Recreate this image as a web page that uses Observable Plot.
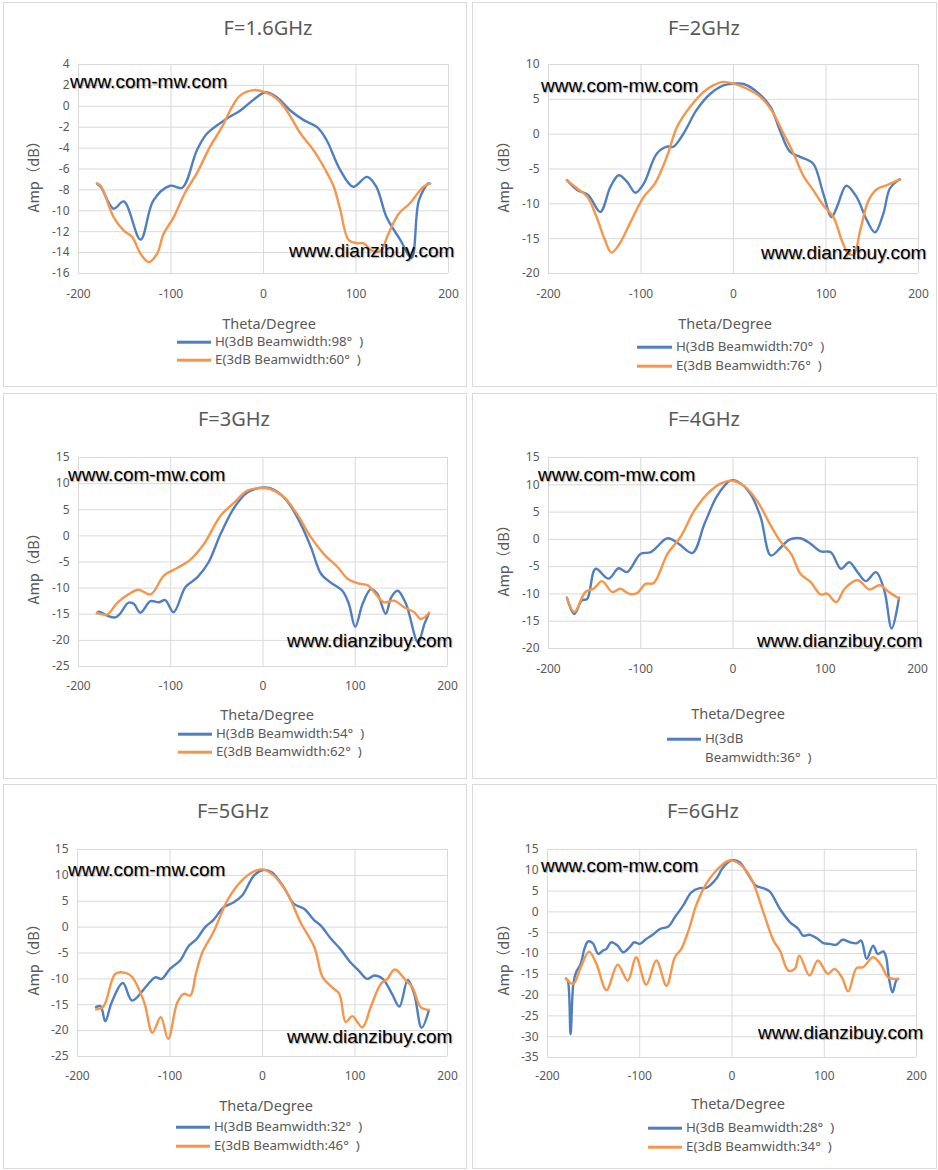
<!DOCTYPE html>
<html><head><meta charset="utf-8">
<script src="https://cdn.jsdelivr.net/npm/d3@7"></script>
<script src="https://cdn.jsdelivr.net/npm/@observablehq/plot@0.6"></script>
<style>
body{margin:0;background:#fff;}
#root{position:relative;width:938px;height:1170px;overflow:hidden;font-family:"Noto Sans","Noto Sans CJK SC",sans-serif;color:#595959;}
.panel{position:absolute;border:1px solid #d9d9d9;box-sizing:border-box;}
.abs{position:absolute;white-space:pre;line-height:1;}
.title{font-size:20px;transform:translate(-50%,-50%);}
.xt{font-size:14.5px;transform:translate(-50%,-50%);}
.yt{font-size:14.5px;font-family:"Noto Sans CJK SC","Noto Sans",sans-serif;transform:translate(-50%,-50%) rotate(-90deg);}
.lg{font-size:13.3px;transform:translate(0,-50%);}
.lgl{position:absolute;height:2.6px;transform:translate(0,-50%);}
.wm{font-family:"Liberation Sans",Arial,sans-serif;font-size:19px;color:#000;text-shadow:1px 1px 1px rgba(0,0,0,0.35);}
svg{position:absolute;}
</style></head>
<body><div id="root"></div>
<script>
const BLUE = "#4f7fc1", ORANGE = "#f7964a";
const xTicks = [-200, -100, 0, 100, 200];
const titles = ["F=1.6GHz", "F=2GHz", "F=3GHz", "F=4GHz", "F=5GHz", "F=6GHz"];
const hLabels = ["H(3dB Beamwidth:98°  )", "H(3dB Beamwidth:70°  )", "H(3dB Beamwidth:54°  )", "H(3dB\nBeamwidth:36°  )", "H(3dB Beamwidth:32°  )", "H(3dB Beamwidth:28°  )"];
const eLabels = ["E(3dB Beamwidth:60°  )", "E(3dB Beamwidth:76°  )", "E(3dB Beamwidth:62°  )", null, "E(3dB Beamwidth:46°  )", "E(3dB Beamwidth:34°  )"];
const yDomains = [[-16, 4], [-20, 10], [-25, 15], [-20, 15], [-25, 15], [-35, 15]];
const yTickSteps = [2, 5, 5, 5, 5, 5];

// [theta (deg), amplitude (dB)]
const h16 = [[-180,-7.4],[-176,-7.7],[-162,-9.8],[-151,-9.1],[-133,-12.75],[-119,-9.0],[-101,-7.6],[-88,-7.8],[-72,-4.2],[-61,-2.6],[-40,-1.2],[-25,-0.4],[-7,0.9],[2,1.35],[14,0.9],[29,-0.4],[43,-1.3],[58,-2.0],[68,-3.2],[83,-6.1],[97,-7.7],[112,-6.75],[122,-7.7],[133,-10.6],[148,-12.8],[160,-14.5],[168,-9.0],[178,-7.4],[180,-7.4]];
const e16 = [[-180,-7.4],[-176,-7.6],[-162,-10.6],[-151,-11.9],[-142,-12.5],[-133,-14.1],[-124,-14.9],[-115,-14.1],[-108,-12.2],[-97,-10.6],[-85,-8.3],[-72,-6.4],[-58,-3.9],[-45,-2.0],[-34,-0.05],[-25,1.05],[-11,1.55],[0,1.4],[14,0.75],[25,-0.4],[40,-2.6],[54,-4.2],[67,-6.1],[76,-7.7],[83,-9.9],[92,-12.8],[101,-13.1],[108,-13.1],[117,-13.8],[126,-13.9],[135,-12.2],[146,-10.3],[158,-9.3],[173,-7.7],[180,-7.4]];
const h2 = [[-180,-6.6],[-169,-8.0],[-157,-8.75],[-144,-11.15],[-133,-7.55],[-124,-5.9],[-115,-6.85],[-106,-8.4],[-97,-7.1],[-83,-2.8],[-72,-1.8],[-65,-1.8],[-54,0.1],[-40,3.45],[-25,5.8],[-11,7.0],[0,7.25],[11,7.2],[25,6.1],[40,3.9],[50,0.6],[61,-2.5],[72,-3.25],[86,-4.2],[97,-8.5],[106,-11.9],[112,-10.4],[122,-7.4],[133,-9.0],[144,-12.3],[153,-14.1],[162,-11.4],[169,-7.8],[178,-6.6],[180,-6.5]];
const e2 = [[-180,-6.6],[-169,-7.8],[-158,-9.0],[-148,-11.9],[-139,-15.2],[-132,-17.0],[-123,-15.7],[-112,-12.8],[-97,-9.0],[-85,-7.1],[-72,-3.25],[-61,1.05],[-47,3.9],[-32,6.1],[-22,7.0],[-11,7.5],[0,7.25],[14,6.55],[29,5.35],[41,3.45],[54,0.1],[65,-2.8],[76,-6.1],[86,-8.0],[97,-10.2],[108,-11.9],[117,-15.2],[124,-17.1],[130,-17.3],[137,-13.8],[146,-9.5],[155,-7.9],[166,-7.3],[178,-6.6],[180,-6.5]];
const h3 = [[-180,-14.8],[-178,-14.5],[-169,-15.25],[-160,-15.6],[-155,-14.9],[-146,-12.8],[-140,-13.0],[-133,-14.7],[-122,-12.5],[-113,-12.7],[-106,-12.3],[-97,-14.6],[-84,-9.8],[-71,-7.9],[-59,-5.05],[-46,0.35],[-31,5.45],[-17,8.3],[1,9.25],[12,8.8],[26,6.7],[41,2.25],[52,-2.2],[63,-7.3],[73,-8.9],[86,-10.5],[93,-13.0],[100,-17.4],[108,-13.0],[117,-10.2],[124,-11.1],[133,-14.9],[139,-11.75],[146,-10.5],[155,-13.0],[168,-20.35],[175,-16.85],[180,-14.75]];
const e3 = [[-180,-14.75],[-169,-15.05],[-158,-12.8],[-146,-11.2],[-135,-10.3],[-122,-11.2],[-107,-7.5],[-93,-6.15],[-80,-4.75],[-64,-1.55],[-46,3.85],[-31,6.4],[-17,8.65],[-3,9.15],[8,8.95],[23,7.35],[37,4.15],[52,-0.3],[66,-3.5],[81,-6.0],[92,-8.25],[103,-9.1],[114,-9.5],[122,-11.1],[131,-12.7],[142,-12.4],[153,-13.65],[164,-14.6],[171,-15.9],[180,-14.75]];
const h4 = [[-180,-10.7],[-172,-13.7],[-164,-11.2],[-158,-10.9],[-149,-5.4],[-135,-7.2],[-124,-5.3],[-115,-6.0],[-100,-2.65],[-89,-2.35],[-71,0.2],[-59,-0.8],[-44,-2.5],[-31,2.8],[-17,8.0],[-3,10.75],[5,10.6],[19,8.3],[30,4.05],[41,-2.95],[52,-1.45],[61,-0.05],[73,0.2],[84,-0.8],[95,-2.2],[106,-2.35],[117,-5.4],[126,-4.2],[135,-6.0],[144,-7.65],[155,-6.0],[164,-9.35],[172,-16.35],[180,-10.7]];
const e4 = [[-180,-10.7],[-172,-13.3],[-160,-9.65],[-151,-9.05],[-142,-7.65],[-131,-9.65],[-122,-9.05],[-113,-9.95],[-104,-9.85],[-95,-8.15],[-86,-8.0],[-71,-2.65],[-57,0.4],[-42,5.25],[-28,8.3],[-13,10.25],[-1,10.75],[12,9.8],[26,7.1],[41,2.5],[52,-0.5],[63,-2.65],[73,-6.3],[84,-7.8],[95,-10.1],[102,-9.95],[112,-11.5],[121,-9.05],[135,-7.5],[148,-9.2],[159,-8.4],[169,-9.65],[180,-10.85]];
const h5 = [[-180,-15.45],[-175,-15.3],[-170,-18.2],[-163,-14.5],[-151,-10.8],[-141,-14.2],[-125,-11.3],[-116,-9.7],[-109,-10.0],[-100,-8.05],[-89,-6.45],[-80,-3.7],[-71,-2.25],[-62,0.0],[-53,1.4],[-42,3.85],[-31,4.8],[-22,6.1],[-9,10.0],[1,11.05],[10,10.6],[23,7.7],[34,4.5],[45,3.55],[56,1.3],[63,0.3],[74,-2.25],[84,-4.2],[95,-6.8],[104,-8.4],[113,-10.0],[121,-9.35],[130,-10.0],[140,-12.9],[148,-15.35],[157,-10.2],[164,-12.9],[172,-19.45],[180,-16.0]];
const e5 = [[-180,-15.9],[-172,-15.35],[-159,-9.0],[-148,-8.85],[-141,-9.65],[-128,-14.5],[-119,-20.4],[-110,-17.4],[-102,-21.6],[-92,-14.5],[-85,-12.9],[-78,-13.2],[-72,-9.0],[-65,-4.85],[-53,-0.95],[-38,5.15],[-24,8.7],[-9,10.8],[0,11.15],[12,10.0],[27,6.45],[41,0.95],[56,-3.85],[65,-9.65],[75,-11.6],[83,-12.9],[90,-18.35],[97,-17.2],[108,-19.35],[117,-15.45],[128,-10.95],[135,-10.0],[143,-8.2],[155,-10.3],[162,-11.6],[171,-15.45],[180,-16.0]];
const h6 = [[-180,-16.0],[-178,-16.5],[-175,-29.4],[-172,-17.3],[-169,-14.5],[-164,-12.5],[-160,-8.9],[-156,-7.1],[-151,-7.5],[-145,-10.1],[-140,-9.3],[-136,-8.9],[-131,-7.3],[-124,-8.1],[-118,-9.7],[-111,-8.5],[-106,-7.3],[-100,-7.7],[-93,-6.5],[-86,-5.5],[-78,-4.1],[-69,-3.5],[-62,-1.3],[-53,1.5],[-44,4.7],[-35,5.7],[-28,5.75],[-17,7.95],[-10,10.6],[-1,12.35],[8,12.0],[17,9.15],[26,6.3],[34,5.7],[41,4.9],[52,0.7],[63,-2.5],[72,-4.1],[77,-5.7],[84,-5.5],[93,-6.5],[99,-7.5],[106,-7.7],[113,-7.9],[120,-6.7],[128,-7.3],[135,-7.55],[140,-6.9],[146,-11.3],[153,-8.1],[158,-10.1],[164,-9.5],[167,-10.8],[170,-15.7],[174,-19.35],[178,-16.5],[180,-16.1]];
const e6 = [[-180,-16.1],[-172,-17.3],[-164,-13.3],[-155,-9.55],[-147,-12.5],[-136,-18.8],[-124,-12.7],[-113,-16.5],[-104,-10.9],[-93,-17.5],[-82,-11.7],[-71,-17.75],[-62,-10.9],[-55,-8.9],[-46,-3.7],[-39,1.5],[-28,6.75],[-17,9.95],[-3,12.35],[8,11.55],[21,7.95],[34,-0.1],[45,-6.9],[52,-9.3],[61,-14.1],[68,-13.7],[73,-10.5],[84,-15.3],[93,-11.7],[104,-14.9],[111,-13.7],[119,-15.7],[126,-19.1],[135,-13.5],[142,-13.3],[153,-10.9],[162,-12.9],[169,-15.7],[180,-16.1]];
const series = [[h16, e16], [h2, e2], [h3, e3], [h4, e4], [h5, e5], [h6, e6]];

// layout (page pixels)
const L = [
  {px:0,   box:[3,2,467,387],     plot:[78,448,64,273],   xoff:20, title:[268,28],  xt:[269,323], yt:[33,173],  lg:[177,215,342,360], wm:[[70,88],[289,257]]},
  {px:470, box:[472,2,937,387],   plot:[548,918,64,273],  xoff:20, title:[704,28],  xt:[725,323], yt:[503,173], lg:[637,676,347,366], wm:[[541,92],[761,259]]},
  {px:0,   box:[3,393,467,779],   plot:[78,447,457,666],  xoff:19, title:[234,419], xt:[267,714], yt:[33,565],  lg:[178,216,734,752], wm:[[68,481],[287,647]]},
  {px:470, box:[472,393,937,779], plot:[548,917,457,648], xoff:20, title:[704,419], xt:[738,713], yt:[503,557], lg:[667,705,739,null], wm:[[538,481],[757,647]]},
  {px:0,   box:[3,784,467,1169],  plot:[77,447,849,1056], xoff:19, title:[233,811], xt:[266,1105], yt:[33,956], lg:[176,214,1127,1146], wm:[[68,876],[287,1043]]},
  {px:470, box:[472,784,937,1169],plot:[547,916,849,1057],xoff:18, title:[703,811], xt:[738,1103], yt:[503,956],lg:[648,686,1128,1147], wm:[[541,872],[758,1039]]}
];

const root = document.getElementById("root");
function el(cls, text, left, top, extra) {
  const d = document.createElement("div");
  d.className = cls;
  if (text != null) d.textContent = text;
  d.style.left = left + "px"; d.style.top = top + "px";
  if (extra) Object.assign(d.style, extra);
  root.appendChild(d);
  return d;
}
const fmt = d => String(d);

L.forEach((c, i) => {
  const [bx0, by0, bx1, by1] = c.box;
  el("panel", null, bx0, by0, {width: (bx1 - bx0) + "px", height: (by1 - by0) + "px"});
  const [pl, pr, pt, pb] = c.plot;
  const W = 468, mT = 20, mB = 40;
  const [H, E] = series[i];
  const [y0, y1] = yDomains[i];
  const yTicks = d3.range(y0, y1 + 0.001, yTickSteps[i]);
  const svg = Plot.plot({
    width: W, height: (pb - pt) + mT + mB,
    marginLeft: pl - c.px, marginRight: c.px + W - pr, marginTop: mT, marginBottom: mB,
    x: {domain: [-200, 200]},
    y: {domain: [y0, y1]},
    style: {fontFamily: '"Noto Sans", sans-serif', fontSize: "12px", color: "#595959", background: "transparent", overflow: "visible"},
    marks: [
      Plot.gridX(xTicks, {stroke: "#d9d9d9", strokeOpacity: 1, strokeWidth: 1}),
      Plot.gridY(yTicks, {stroke: "#d9d9d9", strokeOpacity: 1, strokeWidth: 1}),
      Plot.axisX(xTicks, {tickSize: 0, tickPadding: c.xoff - 4.5, label: null, fontSize: 12, tickFormat: fmt}),
      Plot.axisY(yTicks, {tickSize: 0, tickPadding: 9, label: null, fontSize: 12, tickFormat: fmt}),
      Plot.line(H, {x: d => d[0], y: d => d[1], curve: "catmull-rom", stroke: BLUE, strokeWidth: 2.4}),
      Plot.line(E, {x: d => d[0], y: d => d[1], curve: "catmull-rom", stroke: ORANGE, strokeWidth: 2.4})
    ]
  });
  svg.style.left = c.px + "px";
  svg.style.top = (pt - mT) + "px";
  root.appendChild(svg);

  el("abs title", titles[i], c.title[0], c.title[1]);
  el("abs xt", "Theta/Degree", c.xt[0], c.xt[1]);
  el("abs yt", "Amp（dB）", c.yt[0], c.yt[1]);

  const [lx, tx, ly1, ly2] = c.lg;
  el("lgl", null, lx, ly1, {width: (tx - lx - 4) + "px", background: BLUE});
  if (i === 3) {
    const parts = hLabels[i].split("\n");
    el("abs lg", parts[0], tx, ly1);
    el("abs lg", parts[1], tx, ly1 + 19);
  } else {
    el("abs lg", hLabels[i], tx, ly1);
  }
  if (ly2 != null && eLabels[i]) {
    el("lgl", null, lx, ly2, {width: (tx - lx - 4) + "px", background: ORANGE});
    el("abs lg", eLabels[i], tx, ly2);
  }
  el("abs wm", "www.com-mw.com", c.wm[0][0], c.wm[0][1] - 16.1);
  el("abs wm", "www.dianzibuy.com", c.wm[1][0], c.wm[1][1] - 16.1);
});
</script>
</body></html>
